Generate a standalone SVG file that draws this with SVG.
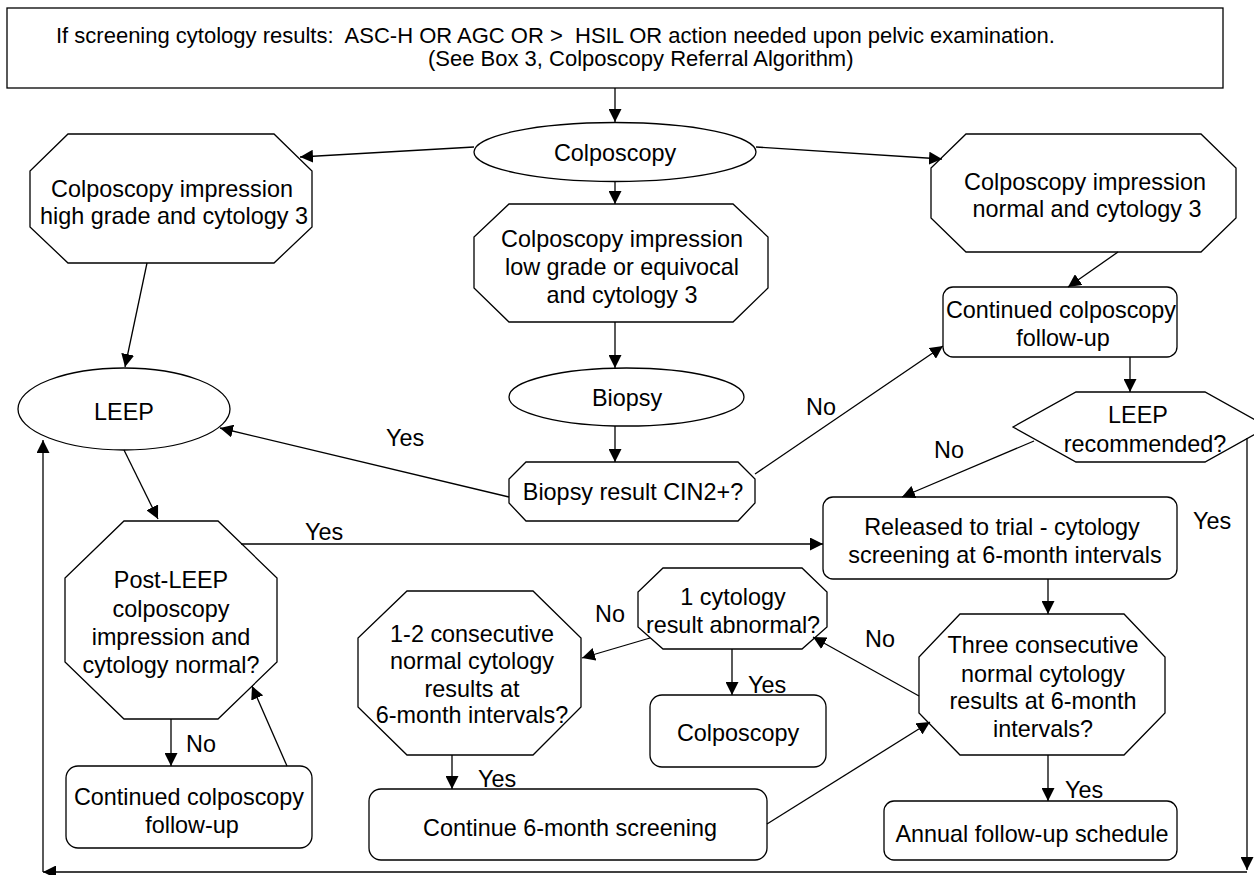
<svg xmlns="http://www.w3.org/2000/svg" width="1254" height="875" viewBox="0 0 1254 875">
  <style>
    .n { fill: #fff; stroke: #000; stroke-width: 1.3; }
    text { font-family: "Liberation Sans", Arial, sans-serif; font-size: 23.4px; fill: #000; text-anchor: middle; }
    .l { text-anchor: start; }
    .hdr { font-size: 22px; text-anchor: start; }
    #edges path { fill: none; stroke: #000; stroke-width: 1.3; marker-end: url(#arr); }
  </style>
  <defs>
    <marker id="arr" markerUnits="userSpaceOnUse" markerWidth="13" markerHeight="13" refX="13" refY="6.5" orient="auto" viewBox="0 0 13 13">
      <path d="M0,0 L13,6.5 L0,13 z" fill="#000"/>
    </marker>
  </defs>
  <rect width="1254" height="875" fill="#fff"/>

  <!-- entry criteria -->
  <g id="entry">
    <rect class="n" x="7" y="8" width="1216" height="80"/>
    <text class="hdr" x="56" y="43" xml:space="preserve">If screening cytology results:  ASC-H OR AGC OR &gt;  HSIL OR action needed upon pelvic examination.</text>
    <text class="hdr" x="428" y="66">(See Box 3, Colposcopy Referral Algorithm)</text>
  </g>

  <g id="colposcopy">
    <ellipse class="n" cx="615" cy="152" rx="141" ry="29.5"/>
    <text x="615" y="161">Colposcopy</text>
  </g>

  <g id="high-grade">
    <polygon class="n" points="68,134 274,134 312,171 312,227 274,263 68,263 30,227 30,171"/>
    <text x="172" y="197">Colposcopy impression</text>
    <text x="174" y="224">high grade and cytology 3</text>
  </g>

  <g id="low-grade">
    <polygon class="n" points="509,204 733,204 768,237 768,288 733,322 509,322 474,288 474,237"/>
    <text x="622" y="247">Colposcopy impression</text>
    <text x="622" y="275">low grade or equivocal</text>
    <text x="622" y="303">and cytology 3</text>
  </g>

  <g id="normal">
    <polygon class="n" points="966,134 1201,134 1236,168 1236,218 1201,252 966,252 931,218 931,168"/>
    <text x="1085" y="190">Colposcopy impression</text>
    <text x="1087" y="217">normal and cytology 3</text>
  </g>

  <g id="biopsy">
    <ellipse class="n" cx="626.5" cy="397" rx="117.5" ry="29"/>
    <text x="627" y="406">Biopsy</text>
  </g>

  <g id="biopsy-result">
    <polygon class="n" points="526,462 738,462 755,479 755,503 738,521 526,521 509,503 509,479"/>
    <text x="633" y="500">Biopsy result CIN2+?</text>
  </g>

  <g id="continued-right">
    <rect class="n" x="943" y="287" width="234" height="70" rx="10"/>
    <text x="1061" y="318">Continued colposcopy</text>
    <text x="1063" y="346">follow-up</text>
  </g>

  <g id="leep-recommended">
    <polygon class="n" points="1013,427 1076,392 1205,392 1268,427 1205,462 1076,462"/>
    <text x="1138" y="423">LEEP</text>
    <text x="1145" y="452">recommended?</text>
  </g>

  <g id="leep">
    <ellipse class="n" cx="124" cy="409" rx="106" ry="41"/>
    <text x="124" y="420">LEEP</text>
  </g>

  <g id="released">
    <rect class="n" x="823" y="497" width="354" height="82" rx="10"/>
    <text x="1002" y="535">Released to trial - cytology</text>
    <text x="1005" y="563">screening at 6-month intervals</text>
  </g>

  <g id="post-leep">
    <polygon class="n" points="124,521 218,521 277,578 277,662 218,719 124,719 65,662 65,578"/>
    <text x="171" y="588">Post-LEEP</text>
    <text x="171" y="617">colposcopy</text>
    <text x="171" y="645">impression and</text>
    <text x="171" y="673">cytology normal?</text>
  </g>

  <g id="continued-left">
    <rect class="n" x="66" y="766" width="246" height="82" rx="12"/>
    <text x="189" y="805">Continued colposcopy</text>
    <text x="192" y="833">follow-up</text>
  </g>

  <g id="one-abnormal">
    <polygon class="n" points="663,568 802,568 827,592 827,627 802,649 663,649 638,627 638,592"/>
    <text x="733" y="605">1 cytology</text>
    <text x="733" y="633">result abnormal?</text>
  </g>

  <g id="colposcopy-repeat">
    <rect class="n" x="650" y="695" width="176" height="72" rx="12"/>
    <text x="738" y="741">Colposcopy</text>
  </g>

  <g id="one-two-normal">
    <polygon class="n" points="407,591 533,591 581,638 581,707 533,755 407,755 358,707 358,638"/>
    <text x="472" y="642">1-2 consecutive</text>
    <text x="472" y="669">normal cytology</text>
    <text x="472" y="697">results at</text>
    <text x="472" y="723">6-month intervals?</text>
  </g>

  <g id="continue-six-month">
    <rect class="n" x="369" y="789" width="398" height="71" rx="12"/>
    <text x="570" y="836">Continue 6-month screening</text>
  </g>

  <g id="three-normal">
    <polygon class="n" points="960,614 1124,614 1165,657 1165,713 1124,755 960,755 919,713 919,657"/>
    <text x="1043" y="653">Three consecutive</text>
    <text x="1043" y="682">normal cytology</text>
    <text x="1043" y="709">results at 6-month</text>
    <text x="1043" y="737">intervals?</text>
  </g>

  <g id="annual">
    <rect class="n" x="884" y="801" width="293" height="59" rx="10"/>
    <text x="1032" y="842">Annual follow-up schedule</text>
  </g>

  <!-- connectors -->
  <g id="edges">
    <path d="M615,88 V122"/>
    <path d="M474,147 L300,157"/>
    <path d="M756,147 L942,159"/>
    <path d="M615,182 V204"/>
    <path d="M615,322 V368"/>
    <path d="M615,426 V462"/>
    <path d="M509,497 L220,428"/>
    <path d="M755,474 L943,346"/>
    <path d="M147,263 L125,367"/>
    <path d="M1118,252 L1068,287"/>
    <path d="M1130,357 V392"/>
    <path d="M1034,441 L902,497"/>
    <path d="M1247,438 V870"/>
    <path d="M1247,872 H43"/>
    <path d="M43,872 V440"/>
    <path d="M124,450 L158,519"/>
    <path d="M241,544 H823"/>
    <path d="M171,719 V766"/>
    <path d="M287,766 L252,686"/>
    <path d="M1048,579 V614"/>
    <path d="M1048,755 V801"/>
    <path d="M919,696 L813,637"/>
    <path d="M650,638 L582,658"/>
    <path d="M732,649 V695"/>
    <path d="M452,755 V789"/>
    <path d="M767,824 L930,722"/>
  </g>

  <!-- branch labels -->
  <g id="labels">
    <text class="l" x="386" y="446">Yes</text>
    <text class="l" x="806" y="415">No</text>
    <text class="l" x="934" y="458">No</text>
    <text class="l" x="1193" y="529">Yes</text>
    <text class="l" x="305" y="540">Yes</text>
    <text class="l" x="186" y="752">No</text>
    <text class="l" x="595" y="622">No</text>
    <text class="l" x="748" y="693">Yes</text>
    <text class="l" x="478" y="787">Yes</text>
    <text class="l" x="865" y="647">No</text>
    <text class="l" x="1065" y="798">Yes</text>
  </g>
</svg>
